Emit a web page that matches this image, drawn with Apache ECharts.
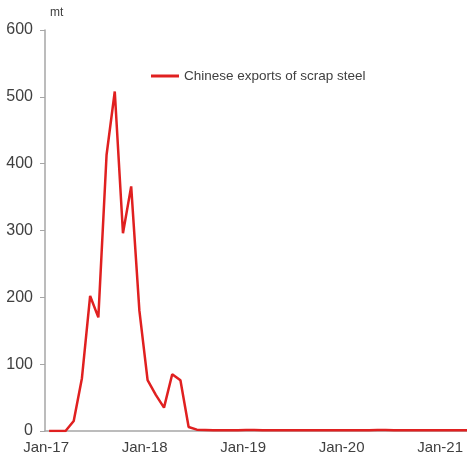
<!DOCTYPE html>
<html><head><meta charset="utf-8">
<script src="https://cdn.jsdelivr.net/npm/echarts@6/dist/echarts.min.js"></script>
<style>html,body{margin:0;padding:0;background:#fff;overflow:hidden}#c{width:480px;height:455px}</style>
</head><body><div id="c"></div>
<script>
const months = ['Jan','Feb','Mar','Apr','May','Jun','Jul','Aug','Sep','Oct','Nov','Dec'];
const years = ['17','18','19','20','21'];
const categories = [];
for (const y of years) for (const m of months) { if (categories.length < 53) categories.push(m + '-' + y); }
const seriesName = 'Chinese exports of scrap steel';
const exportsValues = [
  0, 0, 0, 15, 79, 202, 170, 413, 508, 296, 366, 180,
  76, 54, 35, 85, 76, 6, 2, 1.5, 1, 1, 1, 1,
  1.5, 1.5, 1, 1, 1, 1, 1, 1, 1, 1, 1, 1,
  1, 1, 1, 1, 1.5, 1.5, 1, 1, 1, 1, 1, 1,
  1, 1, 1, 1, 1
];
const yTicks = [0, 100, 200, 300, 400, 500, 600];
const unitLabel = 'mt';

const chart = echarts.init(document.getElementById('c'));
chart.setOption({
  animation: false,
  textStyle: { fontFamily: 'Liberation Sans, Arial, sans-serif' },
  grid: { left: 45, right: 0, top: 30, bottom: 24 },
  legend: {
    data: [seriesName], left: 146, top: 64, itemWidth: 28, itemHeight: 3, itemGap: 3,
    icon: 'rect',
    textStyle: { fontSize: 13.5, color: '#404040', fontFamily: 'Liberation Sans, Arial, sans-serif' }
  },
  graphic: [{ type: 'text', left: 50, top: 7, style: { text: unitLabel, fontSize: 12, fill: '#404040', fontFamily: 'Liberation Sans, Arial, sans-serif' } }],
  xAxis: {
    type: 'category', data: categories, boundaryGap: true,
    axisLine: { lineStyle: { color: '#a6a6a6', width: 1.5 } },
    axisTick: { inside: true, length: 4, interval: (i) => i % 12 === 0, lineStyle: { color: '#a6a6a6' } },
    axisLabel: { interval: (i) => i % 12 === 0, fontSize: 15, color: '#404040', margin: 9, padding: [0, 6, 0, 0] },
    splitLine: { show: false }
  },
  yAxis: {
    type: 'value', min: yTicks[0], max: yTicks[yTicks.length - 1], interval: 100,
    axisLine: { show: true, lineStyle: { color: '#a6a6a6', width: 1.5 } },
    axisTick: { show: true, length: 5, lineStyle: { color: '#a6a6a6' } },
    axisLabel: { fontSize: 16, color: '#404040', margin: 12 },
    splitLine: { show: false }
  },
  series: [{
    name: seriesName, type: 'line', data: exportsValues, symbol: 'none',
    lineStyle: { color: '#e02020', width: 2.5 }, itemStyle: { color: '#e02020' }
  }]
});
</script></body></html>
